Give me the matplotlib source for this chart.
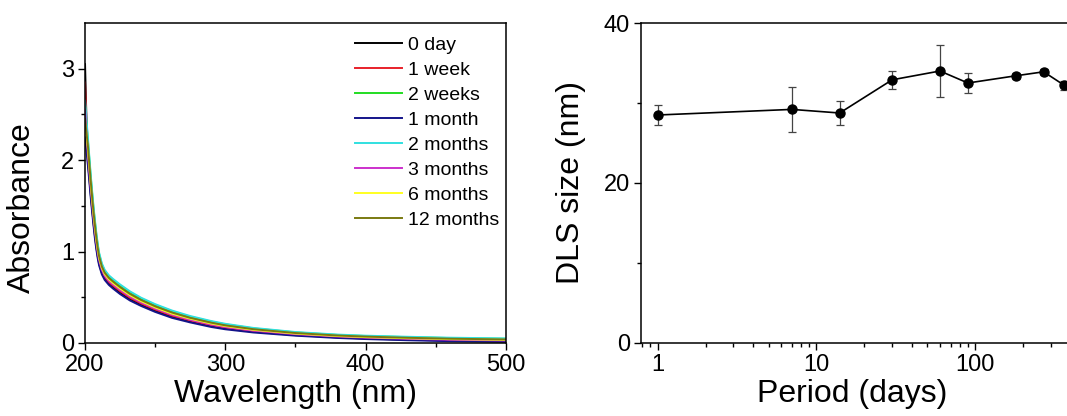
"""UV-vis absorbance spectra over storage time and DLS size vs period."""

import matplotlib

matplotlib.use("Agg")

import matplotlib.pyplot as plt
from matplotlib import ticker

plt.rcParams["font.family"] = ["Liberation Sans", "DejaVu Sans"]

# ---- left panel: absorbance spectra ----
WAVELENGTH = [200, 201, 202, 203, 204, 205, 206, 207, 208, 209, 210, 212, 214, 217, 220,
              225, 232, 240, 250, 262, 275, 290, 300, 320, 350, 380, 400, 430, 460, 500]

ABS_0_DAY = [3.05, 2.45, 1.995, 1.821, 1.638, 1.475, 1.322, 1.18, 1.057, 0.954, 0.871, 0.768,
             0.707, 0.651, 0.611, 0.551, 0.48, 0.419, 0.353, 0.287, 0.236, 0.185, 0.159, 0.123,
             0.086, 0.061, 0.049, 0.036, 0.026, 0.018]
ABS_1_WEEK = [2.85, 2.40, 2.04, 1.861, 1.675, 1.509, 1.353, 1.21, 1.084, 0.978, 0.892, 0.786,
              0.723, 0.667, 0.627, 0.567, 0.495, 0.432, 0.366, 0.299, 0.246, 0.195, 0.168, 0.13,
              0.092, 0.066, 0.054, 0.041, 0.031, 0.023]
ABS_2_WEEKS = [2.60, 2.42, 2.22, 2.023, 1.825, 1.647, 1.479, 1.33, 1.192, 1.074, 0.976, 0.858,
               0.789, 0.73, 0.69, 0.63, 0.555, 0.486, 0.417, 0.347, 0.288, 0.234, 0.204, 0.16,
               0.116, 0.088, 0.076, 0.064, 0.054, 0.046]
ABS_1_MONTH = [2.25, 2.10, 1.95, 1.78, 1.60, 1.44, 1.29, 1.15, 1.03, 0.93, 0.85, 0.75,
               0.69, 0.635, 0.595, 0.535, 0.465, 0.405, 0.34, 0.275, 0.225, 0.175, 0.15, 0.115,
               0.08, 0.055, 0.043, 0.03, 0.02, 0.012]
ABS_2_MONTHS = [2.65, 2.45, 2.25, 2.05, 1.85, 1.67, 1.50, 1.35, 1.21, 1.09, 0.99, 0.87,
                0.80, 0.74, 0.70, 0.64, 0.565, 0.495, 0.425, 0.355, 0.295, 0.24, 0.21, 0.165,
                0.12, 0.092, 0.08, 0.068, 0.058, 0.05]
ABS_3_MONTHS = [2.55, 2.30, 2.076, 1.893, 1.705, 1.537, 1.378, 1.234, 1.106, 0.997, 0.909, 0.80,
                0.736, 0.679, 0.639, 0.579, 0.507, 0.443, 0.376, 0.309, 0.254, 0.202, 0.175, 0.136,
                0.097, 0.071, 0.059, 0.046, 0.036, 0.028]
ABS_6_MONTHS = [2.40, 2.28, 2.124, 1.937, 1.745, 1.573, 1.412, 1.266, 1.134, 1.023, 0.931, 0.82,
                0.754, 0.696, 0.656, 0.596, 0.523, 0.457, 0.389, 0.321, 0.266, 0.213, 0.185, 0.144,
                0.103, 0.076, 0.064, 0.052, 0.042, 0.034]
ABS_12_MONTHS = [2.45, 2.30, 2.166, 1.974, 1.78, 1.606, 1.441, 1.294, 1.16, 1.045, 0.951, 0.836,
                 0.769, 0.711, 0.671, 0.611, 0.537, 0.47, 0.401, 0.333, 0.275, 0.222, 0.193, 0.151,
                 0.109, 0.082, 0.07, 0.057, 0.047, 0.039]

SPECTRA = [ABS_0_DAY, ABS_1_WEEK, ABS_2_WEEKS, ABS_1_MONTH,
           ABS_2_MONTHS, ABS_3_MONTHS, ABS_6_MONTHS, ABS_12_MONTHS]
SPECTRA_LABELS = ["0 day", "1 week", "2 weeks", "1 month",
                  "2 months", "3 months", "6 months", "12 months"]
SPECTRA_COLORS = ["#000000", "#e8202a", "#22dd22", "#14148a",
                  "#30e0e0", "#cc30cc", "#ffff20", "#7a7a10"]

# ---- right panel: DLS size ----
DAYS = [1, 7, 14, 30, 60, 90, 180, 270, 365]
DLS_SIZE = [28.5, 29.2, 28.75, 32.9, 34.0, 32.5, 33.4, 33.9, 32.2]
DLS_ERR = [1.25, 2.8, 1.45, 1.15, 3.2, 1.2, 0.4, 0.4, 0.6]


def style_axes(ax):
    for spine in ax.spines.values():
        spine.set_linewidth(1.1)
    ax.tick_params(which="major", direction="out", length=5, width=1.0,
                   labelsize=17, pad=3)
    ax.tick_params(which="minor", direction="out", length=3, width=1.0)


def main():
    fig = plt.figure(figsize=(10.67, 4.16), dpi=100)
    ax1 = fig.add_axes([0.0797, 0.1755, 0.3943, 0.7692])
    ax2 = fig.add_axes([0.6008, 0.1755, 0.4619, 0.7692])

    for values, label, color in zip(SPECTRA, SPECTRA_LABELS, SPECTRA_COLORS):
        ax1.plot(WAVELENGTH, values, color=color, lw=1.4, label=label)
    ax1.set_xlim(200, 500)
    ax1.set_ylim(0, 3.5)
    ax1.set_xticks([200, 300, 400, 500])
    ax1.set_yticks([0, 1, 2, 3])
    ax1.xaxis.set_minor_locator(ticker.FixedLocator([250, 350, 450]))
    ax1.yaxis.set_minor_locator(ticker.FixedLocator([0.5, 1.5, 2.5]))
    style_axes(ax1)
    ax1.set_xlabel("Wavelength (nm)", fontsize=23, va="top")
    ax1.xaxis.set_label_coords(0.5, -0.112)
    ax1.set_ylabel("Absorbance", fontsize=23, va="center")
    ax1.yaxis.set_label_coords(-0.150, 0.423)
    ax1.legend(loc="upper left", bbox_to_anchor=(0.642, 0.959), frameon=False,
               fontsize=14, handlelength=2.4, handletextpad=0.3,
               labelspacing=0.38, borderaxespad=0, borderpad=0)

    ax2.errorbar(DAYS, DLS_SIZE, yerr=DLS_ERR, color="black", lw=1.2,
                 marker="o", ms=6.5, ecolor="#444444", elinewidth=0.9,
                 capsize=3, capthick=0.9)
    ax2.set_xscale("log")
    ax2.set_xlim(0.785, 1000)
    ax2.set_ylim(0, 40)
    ax2.set_xticks([1, 10, 100])
    ax2.xaxis.set_major_formatter(ticker.FixedFormatter(["1", "10", "100"]))
    ax2.xaxis.set_minor_formatter(ticker.NullFormatter())
    ax2.set_yticks([0, 20, 40])
    ax2.yaxis.set_minor_locator(ticker.FixedLocator([10, 30]))
    style_axes(ax2)
    ax2.set_xlabel("Period (days)", fontsize=23, va="top")
    ax2.xaxis.set_label_coords(0.429, -0.112)
    ax2.set_ylabel("DLS size (nm)", fontsize=23, va="center")
    ax2.yaxis.set_label_coords(-0.142, 0.503)

    fig.savefig("out.png", dpi=100)
    plt.close(fig)


if __name__ == "__main__":
    main()
